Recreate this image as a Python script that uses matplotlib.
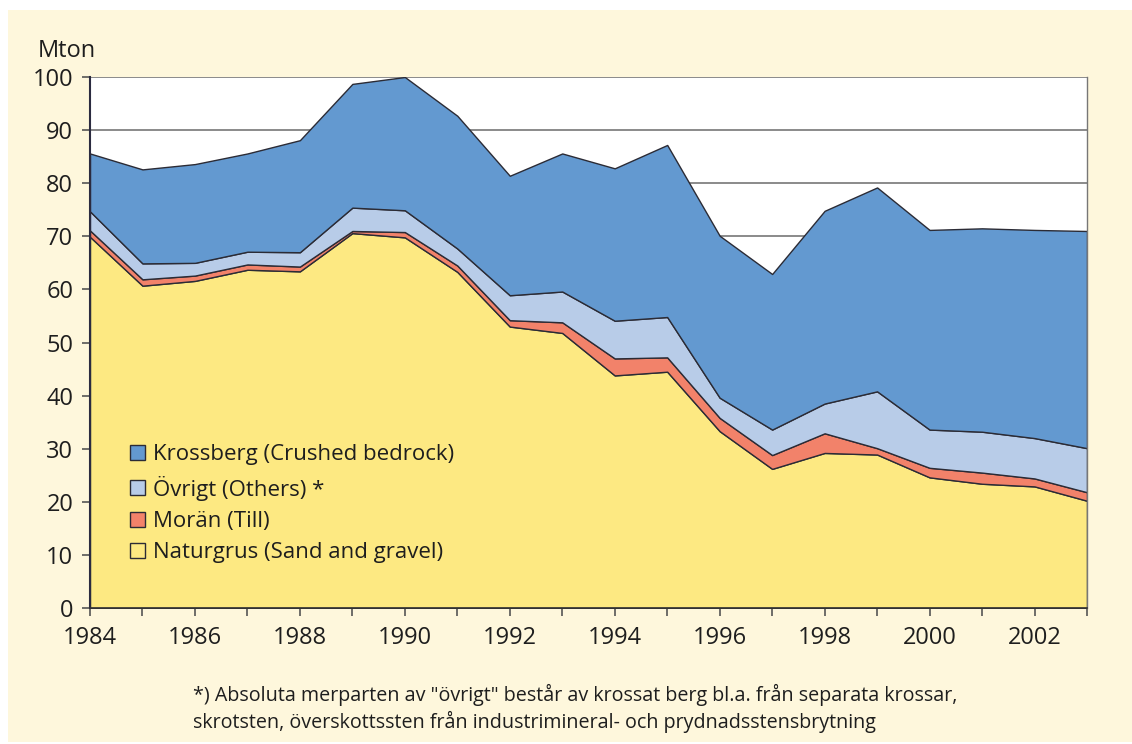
# Stacked area chart: Swedish aggregate production 1984-2003
import matplotlib
matplotlib.use("Agg")
import numpy as np
import matplotlib.pyplot as plt
from matplotlib.patches import Patch, Rectangle

plt.rcParams['font.family'] = ['Open Sans', 'DejaVu Sans']

# Data (Mton)
years = np.arange(1984, 2004)
naturgrus = [69.9, 60.7, 61.6, 63.7, 63.4, 70.6, 69.8, 63.3, 53.0, 51.8,
             43.8, 44.5, 33.3, 26.2, 29.2, 28.9, 24.6, 23.4, 22.9, 20.2]
moran = [1.2, 1.2, 1.0, 1.0, 0.9, 0.4, 1.0, 1.2, 1.2, 2.0,
         3.2, 2.7, 2.5, 2.6, 3.7, 1.2, 1.8, 2.1, 1.5, 1.6]
ovrigt = [3.6, 3.0, 2.4, 2.4, 2.7, 4.4, 4.1, 3.2, 4.7, 5.8,
          7.1, 7.6, 3.8, 4.8, 5.6, 10.7, 7.2, 7.7, 7.6, 8.3]
krossberg = [10.9, 17.7, 18.6, 18.5, 21.1, 23.3, 25.1, 25.0, 22.5, 26.0,
             28.7, 32.4, 30.5, 29.3, 36.3, 38.4, 37.6, 38.3, 39.2, 40.9]

labels = ["Naturgrus (Sand and gravel)", "Morän (Till)",
          "Övrigt (Others) *", "Krossberg (Crushed bedrock)"]
colors = ["#FDE982", "#F2826A", "#B8CCE8", "#6399D0"]

foot1 = ('*) Absoluta merparten av "övrigt" består av krossat berg bl.a. '
         'från separata krossar,')
foot2 = 'skrotsten, överskottssten från industrimineral- och prydnadsstensbrytning'

cream = "#FEF7DC"
edge = "#2B2B35"

fig = plt.figure(figsize=(11.32, 7.44), dpi=100, facecolor="white")
fig.patches.append(Rectangle((8 / 1132, 0.003), 1.0, 1 - 10 / 744 - 0.003,
                             transform=fig.transFigure, facecolor=cream,
                             edgecolor="none", zorder=-10))

ax = fig.add_axes([90 / 1132, 1 - 608 / 744, 997 / 1132, 531 / 744])
ax.set_zorder(1)
ax.set_facecolor("white")

series = [naturgrus, moran, ovrigt, krossberg]
ax.stackplot(years, *series, colors=colors, edgecolor=edge, linewidth=1.0,
             zorder=3)

ax.set_xlim(1984, 2003)
ax.set_ylim(0, 100)
ax.set_yticks(np.arange(0, 101, 10))
ax.set_xticks(np.arange(1984, 2004, 1))
ax.set_xticklabels([str(y) if y % 2 == 0 else "" for y in years])
ax.yaxis.grid(True, color="#8A8A8A", linewidth=1.4, zorder=1)
ax.set_axisbelow(True)

ax.spines["top"].set_visible(False)
ax.spines["right"].set_color("#777777")
ax.spines["right"].set_linewidth(1.0)
ax.spines["left"].set_color("#2B2B40")
ax.spines["left"].set_linewidth(1.5)
ax.spines["bottom"].set_color("#333333")
ax.spines["bottom"].set_linewidth(1.2)
for s in ax.spines.values():
    s.set_zorder(5)

ax.tick_params(axis="both", direction="out", length=6, width=1.2,
               color="#555555", labelsize=17, labelcolor="#1E1E1E")
ax.tick_params(axis="y", pad=6)
ax.tick_params(axis="x", pad=7)

fig.text(38 / 1132, 1 - 57 / 744, "Mton", fontsize=17, color="#1E1E1E",
         ha="left", va="baseline")

handles = [Patch(facecolor=colors[i], edgecolor=edge, linewidth=1.0,
                 label=labels[i]) for i in [3, 2, 1, 0]]
leg = ax.legend(handles=handles, loc="upper left",
                bbox_to_anchor=(0.04, 0.308), frameon=False, fontsize=16,
                handlelength=0.66, handleheight=0.66, handletextpad=0.4,
                labelspacing=0.46, borderpad=0, borderaxespad=0)
for t in leg.get_texts():
    t.set_color("#1E1E1E")

fig.text(193 / 1132, 1 - 701 / 744, foot1, fontsize=14.2, color="#1E1E1E",
         ha="left", va="baseline")
fig.text(193 / 1132, 1 - 728 / 744, foot2, fontsize=14.2, color="#1E1E1E",
         ha="left", va="baseline")

fig.savefig("out.png", dpi=100, facecolor=fig.get_facecolor())
